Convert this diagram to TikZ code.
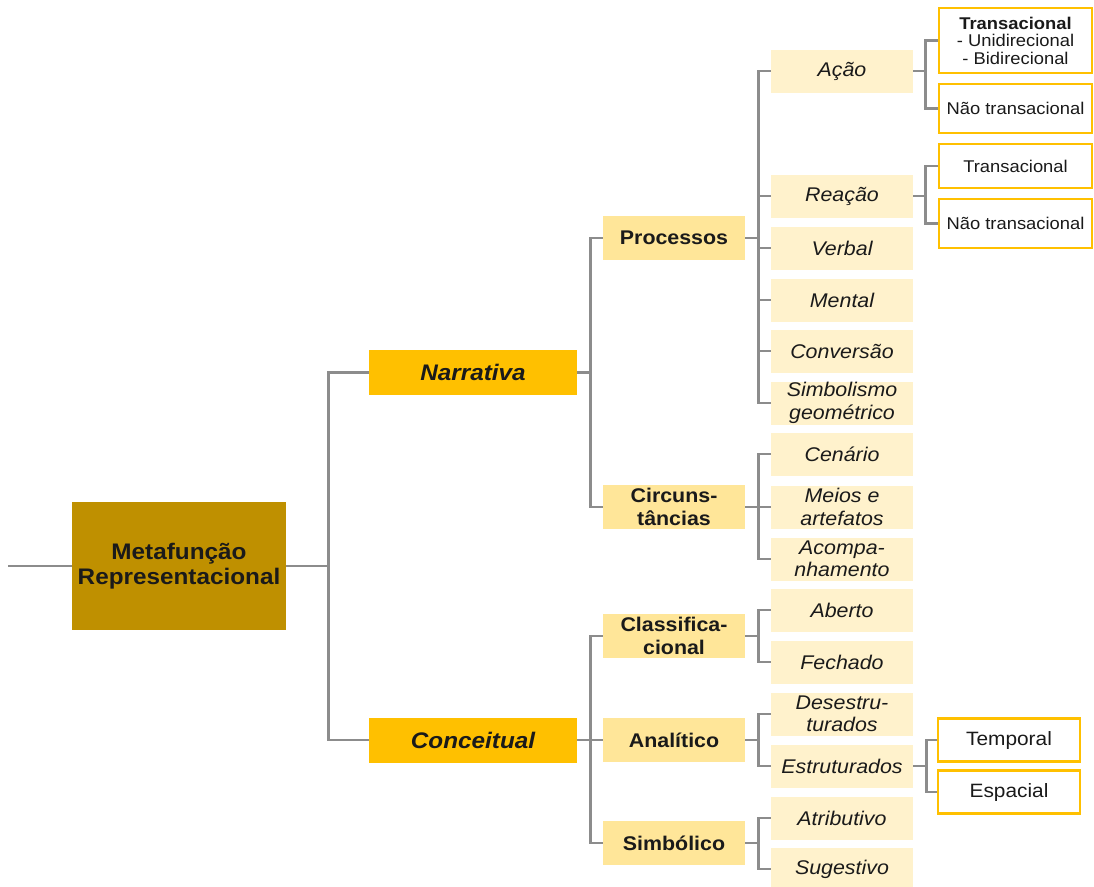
\documentclass[tikz,border=0pt]{standalone}
\usepackage{fontspec}
\setmainfont[FakeStretch=1.08]{Liberation Sans}
\definecolor{cmain}{HTML}{BF9000}
\definecolor{cone}{HTML}{FFC000}
\definecolor{ctwo}{HTML}{FFE699}
\definecolor{cthree}{HTML}{FFF2CC}
\definecolor{cline}{HTML}{8C8C8C}
\definecolor{ctext}{HTML}{1A1A1A}
\tikzset{
  box/.style={inner sep=0pt, align=center, text=ctext, anchor=center},
  lvlmain/.style={box, fill=cmain, minimum width=214pt, minimum height=128pt,
    font=\fontsize{22.5}{24.5}\selectfont\bfseries},
  lvlone/.style={box, fill=cone, minimum width=208pt, minimum height=45pt,
    font=\fontsize{22.5}{24}\selectfont\bfseries\itshape},
  lvltwo/.style={box, fill=ctwo, minimum width=142pt, minimum height=44pt,
    font=\fontsize{19.8}{22.5}\selectfont\bfseries},
  lvlthree/.style={box, fill=cthree, minimum width=142pt, minimum height=43pt,
    font=\fontsize{19.8}{22.5}\selectfont\itshape},
  lvlfour/.style={box, fill=white, draw=cone, line width=2.5pt, minimum width=153pt,
    font=\fontsize{17}{17.5}\selectfont},
  lvlfive/.style={box, fill=white, draw=cone, line width=2.5pt, minimum width=142pt,
    minimum height=43pt, font=\fontsize{19.3}{21}\selectfont},
  conn/.style={draw=cline, line width=2.6pt},
}
\begin{document}
\begin{tikzpicture}[x=1pt,y=-1pt]
\useasboundingbox (0,0) rectangle (1094,886);
\fill[white] (0,0) rectangle (1094,886);

% level 0
\node[lvlmain] (main) at (179,566) {Metafunção\\Representacional};
\coordinate (lft) at (8,566);

% level 1
\node[lvlone] (nar) at (473,372.5) {Narrativa};
\node[lvlone] (con) at (473,740) {Conceitual};

% level 2
\node[lvltwo] (proc) at (674,238) {Processos};
\node[lvltwo] (circ) at (674,507) {Circuns-\\tâncias};
\node[lvltwo] (clas) at (674,636) {Classifica-\\cional};
\node[lvltwo] (anal) at (674,740) {Analítico};
\node[lvltwo] (simb) at (674,843) {Simbólico};

% level 3
\node[lvlthree] (acao) at (842,71) {Ação};
\node[lvlthree] (reac) at (842,196) {Reação};
\node[lvlthree] (verb) at (842,248) {Verbal};
\node[lvlthree] (ment) at (842,300) {Mental};
\node[lvlthree] (conv) at (842,351) {Conversão};
\node[lvlthree] (simg) at (842,403) {Simbolismo\\geométrico};
\node[lvlthree] (cena) at (842,454) {Cenário};
\node[lvlthree] (meio) at (842,507) {Meios e\\artefatos};
\node[lvlthree] (acom) at (842,559) {Acompa-\\nhamento};
\node[lvlthree] (aber) at (842,610) {Aberto};
\node[lvlthree] (fech) at (842,662) {Fechado};
\node[lvlthree] (dese) at (842,714) {Desestru-\\turados};
\node[lvlthree] (estr) at (842,766) {Estruturados};
\node[lvlthree] (atri) at (842,818) {Atributivo};
\node[lvlthree] (suge) at (842,869) {Sugestivo};

% level 4
\node[lvlfour, minimum height=65pt] (tra) at (1015.5,40.5)
  {\textbf{Transacional}\\- Unidirecional\\- Bidirecional};
\node[lvlfour, minimum height=49pt] (ntra) at (1015.5,108.5) {Não transacional};
\node[lvlfour, minimum height=44pt] (trb) at (1015.5,166) {Transacional};
\node[lvlfour, minimum height=49pt] (ntrb) at (1015.5,223.5) {Não transacional};
\node[lvlfive] (temp) at (1009,740) {Temporal};
\node[lvlfive] (espa) at (1009,792) {Espacial};

% connectors
\draw[conn] (lft) -- (main.west);
\foreach \c in {nar,con}
  \draw[conn] (main.east) -- ++(42,0) |- (\c.west);
\foreach \c in {proc,circ}
  \draw[conn] (nar.east) -- ++(13,0) |- (\c.west);
\foreach \c in {clas,anal,simb}
  \draw[conn] (con.east) -- ++(13,0) |- (\c.west);
\foreach \c in {acao,reac,verb,ment,conv,simg}
  \draw[conn] (proc.east) -- ++(13,0) |- (\c.west);
\foreach \c in {cena,meio,acom}
  \draw[conn] (circ.east) -- ++(13,0) |- (\c.west);
\foreach \c in {aber,fech}
  \draw[conn] (clas.east) -- ++(13,0) |- (\c.west);
\foreach \c in {dese,estr}
  \draw[conn] (anal.east) -- ++(13,0) |- (\c.west);
\foreach \c in {atri,suge}
  \draw[conn] (simb.east) -- ++(13,0) |- (\c.west);
\foreach \c in {tra,ntra}
  \draw[conn] (acao.east) -- ++(12,0) |- (\c.west);
\foreach \c in {trb,ntrb}
  \draw[conn] (reac.east) -- ++(12,0) |- (\c.west);
\foreach \c in {temp,espa}
  \draw[conn] (estr.east) -- ++(13,0) |- (\c.west);
\end{tikzpicture}
\end{document}
